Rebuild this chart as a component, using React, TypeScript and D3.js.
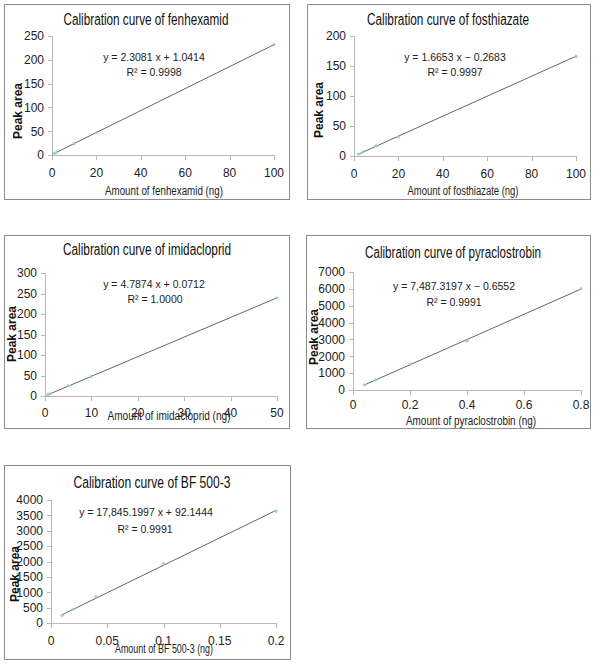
import React from "react";
import * as d3 from "d3";

// ---- data ----
const titles = [
  "Calibration curve of fenhexamid",
  "Calibration curve of fosthiazate",
  "Calibration curve of imidacloprid",
  "Calibration curve of pyraclostrobin",
  "Calibration curve of BF 500-3",
];
const xLabels = [
  "Amount of fenhexamid (ng)",
  "Amount of fosthiazate (ng)",
  "Amount of imidacloprid (ng)",
  "Amount of pyraclostrobin (ng)",
  "Amount of BF 500-3 (ng)",
];
const equations = [
  "y = 2.3081 x + 1.0414",
  "y = 1.6653 x − 0.2683",
  "y = 4.7874 x + 0.0712",
  "y = 7,487.3197 x − 0.6552",
  "y = 17,845.1997 x + 92.1444",
];
const r2Labels = ["R² = 0.9998", "R² = 0.9997", "R² = 1.0000", "R² = 0.9991", "R² = 0.9991"];
const slopes = [2.3081, 1.6653, 4.7874, 7487.3197, 17845.1997];
const intercepts = [1.0414, -0.2683, 0.0712, -0.6552, 92.1444];

const fenhexamidX = [1, 2, 10, 20, 100];
const fenhexamidY = [3, 5.5, 24, 47, 232];
const fosthiazateX = [2, 4, 10, 20, 100];
const fosthiazateY = [3, 6.5, 17, 32, 166];
const imidaclopridX = [0.5, 1, 5, 10, 50];
const imidaclopridY = [2.5, 5, 25, 48, 239];
const pyraclostrobinX = [0.04, 0.08, 0.2, 0.4, 0.8];
const pyraclostrobinY = [300, 600, 1520, 2900, 6000];
const bf5003X = [0.01, 0.02, 0.04, 0.1, 0.2];
const bf5003Y = [250, 445, 850, 1930, 3630];

const xTicks = [
  [0, 20, 40, 60, 80, 100],
  [0, 20, 40, 60, 80, 100],
  [0, 10, 20, 30, 40, 50],
  [0, 0.2, 0.4, 0.6, 0.8],
  [0, 0.05, 0.1, 0.15, 0.2],
];
const yTicks = [
  [0, 50, 100, 150, 200, 250],
  [0, 50, 100, 150, 200],
  [0, 50, 100, 150, 200, 250, 300],
  [0, 1000, 2000, 3000, 4000, 5000, 6000, 7000],
  [0, 500, 1000, 1500, 2000, 2500, 3000, 3500, 4000],
];
const xsAll = [fenhexamidX, fosthiazateX, imidaclopridX, pyraclostrobinX, bf5003X];
const ysAll = [fenhexamidY, fosthiazateY, imidaclopridY, pyraclostrobinY, bf5003Y];

// ---- layout (pixels) ----
type Layout = {
  box: [number, number, number, number];
  px: [number, number];
  py: [number, number];
  title: [number, number, number];
  eq: [number, number];
  r2: [number, number];
  yl: [number, number];
  xl: [number, number, number];
  xtDy: number;
};
const layouts: Layout[] = [
  { box: [4, 4, 289, 199], px: [52, 274], py: [155, 36], title: [146, 25, 165], eq: [154, 61], r2: [154, 76], yl: [18, 111], xl: [164, 195, 118], xtDy: 22 },
  { box: [307, 4, 590, 199], px: [354, 576], py: [156, 36], title: [448, 25, 162], eq: [455, 61], r2: [455, 76], yl: [319, 110], xl: [463, 195, 111], xtDy: 22 },
  { box: [4, 235, 289, 428], px: [45, 277], py: [396, 273], title: [147, 255, 168], eq: [154, 288], r2: [155, 303], yl: [12, 334], xl: [169, 420, 123], xtDy: 21 },
  { box: [306, 235, 590, 428], px: [353, 581], py: [390, 272], title: [453, 258, 176], eq: [454, 290], r2: [454, 306], yl: [314, 337], xl: [471, 425, 130], xtDy: 19 },
  { box: [4, 465, 290, 659], px: [51, 276], py: [623, 500], title: [152, 488, 157], eq: [146, 516], r2: [145, 533], yl: [15, 574], xl: [164, 653, 98], xtDy: 22 },
];

const FONT = "'Liberation Sans', Arial, sans-serif";
const fmt = (v: number) => String(+v.toFixed(4));

function Panel({ i }: { i: number }) {
  const L = layouts[i];
  const xt = xTicks[i];
  const yt = yTicks[i];
  const x = d3.scaleLinear().domain([xt[0], xt[xt.length - 1]]).range(L.px);
  const y = d3.scaleLinear().domain([yt[0], yt[yt.length - 1]]).range(L.py);
  const xs = xsAll[i];
  const ys = ysAll[i];
  const x0 = d3.min(xs) as number;
  const x1 = d3.max(xs) as number;
  const line = d3.line<number>().x((d) => x(d)).y((d) => y(slopes[i] * d + intercepts[i]));
  const [bx0, by0, bx1, by1] = L.box;
  const axisCol = "#b8b8b8";
  return (
    <g>
      <rect x={bx0 + 0.5} y={by0 + 0.5} width={bx1 - bx0} height={by1 - by0} fill="#fff" stroke="#8c8c8c" strokeWidth={1} />
      <text x={L.title[0]} y={L.title[1]} textAnchor="middle" fontSize={16} fontFamily={FONT} fill="#111" textLength={L.title[2]} lengthAdjust="spacingAndGlyphs">
        {titles[i]}
      </text>
      {/* y axis */}
      <line x1={L.px[0] + 0.5} x2={L.px[0] + 0.5} y1={L.py[0]} y2={L.py[1]} stroke={axisCol} />
      {yt.map((t) => (
        <g key={"y" + t}>
          <line x1={L.px[0] - 4} x2={L.px[0] + 0.5} y1={Math.round(y(t)) + 0.5} y2={Math.round(y(t)) + 0.5} stroke={axisCol} />
          <text x={L.px[0] - 8} y={y(t)} dy="0.36em" textAnchor="end" fontSize={12} fontFamily={FONT} fill="#222">
            {fmt(t)}
          </text>
        </g>
      ))}
      {/* x axis */}
      <line x1={L.px[0]} x2={L.px[1]} y1={L.py[0] + 0.5} y2={L.py[0] + 0.5} stroke={axisCol} />
      {xt.map((t) => (
        <g key={"x" + t}>
          <line x1={Math.round(x(t)) + 0.5} x2={Math.round(x(t)) + 0.5} y1={L.py[0]} y2={L.py[0] + 5} stroke={axisCol} />
          <text x={x(t)} y={L.py[0] + L.xtDy} textAnchor="middle" fontSize={12} fontFamily={FONT} fill="#222">
            {fmt(t)}
          </text>
        </g>
      ))}
      {/* trendline */}
      <path d={line([x0, x1]) || ""} fill="none" stroke="#666" strokeWidth={1} />
      {/* points */}
      {xs.map((v, k) => (
        <path key={k} d={`M${x(v)},${y(ys[k]) - 1.6}l1.6,1.6l-1.6,1.6l-1.6,-1.6z`} fill="#8fd6d6" stroke="#7cc8c8" strokeWidth={0.5} />
      ))}
      <text x={L.eq[0]} y={L.eq[1]} textAnchor="middle" fontSize={10.5} fontFamily={FONT} fill="#222">
        {equations[i]}
      </text>
      <text x={L.r2[0]} y={L.r2[1]} textAnchor="middle" fontSize={10.5} fontFamily={FONT} fill="#222">
        {r2Labels[i]}
      </text>
      <text transform={`translate(${L.yl[0] + 4},${L.yl[1]}) rotate(-90)`} textAnchor="middle" fontSize={12} fontWeight="bold" fontFamily={FONT} fill="#111">
        Peak area
      </text>
      <text x={L.xl[0]} y={L.xl[1]} textAnchor="middle" fontSize={12} fontFamily={FONT} fill="#222" textLength={L.xl[2]} lengthAdjust="spacingAndGlyphs">
        {xLabels[i]}
      </text>
    </g>
  );
}

export default function App() {
  return (
    <svg width={601} height={668} style={{ position: "absolute", left: 0, top: 0, background: "#fff" }}>
      <rect width={601} height={668} fill="#fff" />
      {layouts.map((_, i) => (
        <Panel key={i} i={i} />
      ))}
    </svg>
  );
}
